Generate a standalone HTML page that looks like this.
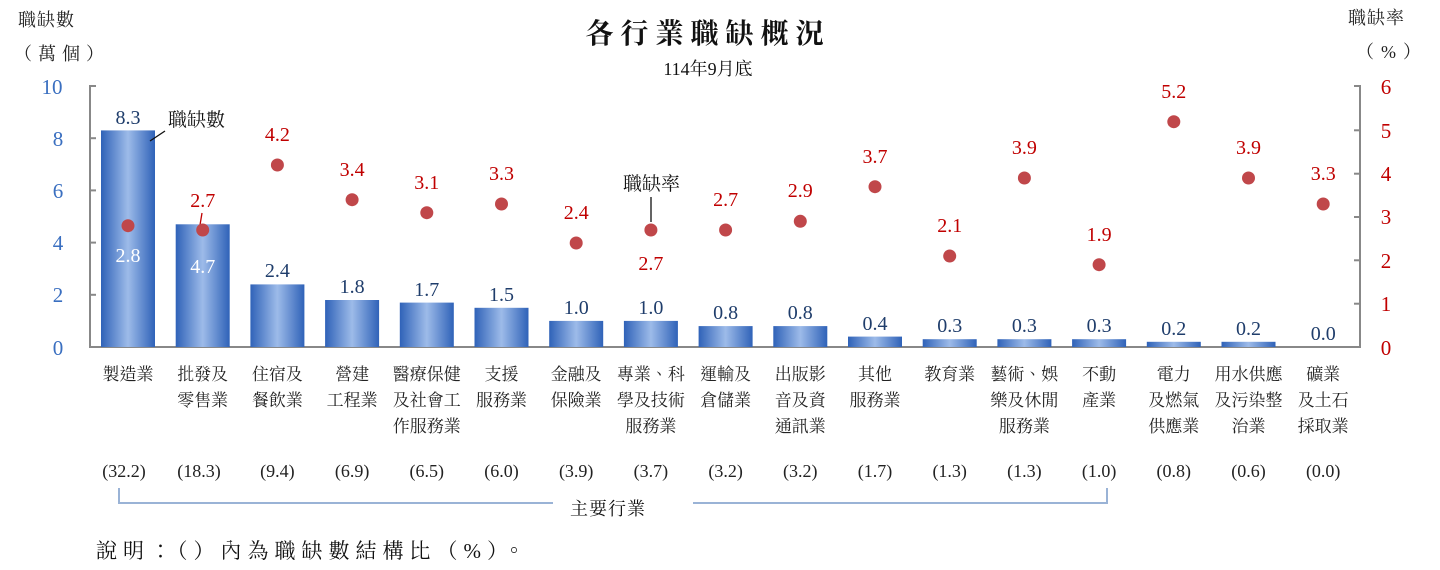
<!DOCTYPE html>
<html><head><meta charset="utf-8"><style>
body{margin:0;background:#fff;}
svg{display:block;font-family:"Liberation Serif","Noto Serif CJK SC",serif;}
.cj{font-family:"Liberation Serif","Noto Serif CJK TC","Noto Serif CJK SC",serif;}
.v{fill:#1f3d6b;font-size:20px;text-anchor:middle}
.r{fill:#c00000;font-size:20px;text-anchor:middle}
.w{fill:#fff;font-size:20px;text-anchor:middle}
.c{fill:#222;font-size:17px;text-anchor:middle}
.p{fill:#222;font-size:18px;text-anchor:middle}
</style></head><body>
<svg width="1440" height="570" viewBox="0 0 1440 570">
<defs>
<linearGradient id="g" x1="0" x2="1" y1="0" y2="0">
<stop offset="0" stop-color="#2f62b8"/><stop offset="0.5" stop-color="#9dbbe9"/><stop offset="1" stop-color="#2f62b8"/>
</linearGradient>
</defs>
<text x="708" y="43" font-size="28" font-weight="bold" text-anchor="middle" class="cj" fill="#111" letter-spacing="7">各行業職缺概況</text>
<text x="708" y="75" font-size="18" text-anchor="middle" class="cj" fill="#111">114年9月底</text>
<text x="18" y="26" font-size="18" class="cj" fill="#222" letter-spacing="1">職缺數</text>
<text x="14" y="60" font-size="18" class="cj" fill="#222" letter-spacing="6">（萬個）</text>
<text x="1348" y="24" font-size="18" class="cj" fill="#222" letter-spacing="1">職缺率</text>
<text x="1356" y="58" font-size="18" class="cj" fill="#222" letter-spacing="7">（%）</text>
<!-- axes -->
<g stroke="#888" stroke-width="2" fill="none">
<polyline points="96,86 90,86 90,347 1360,347 1360,86 1354,86"/>
<line x1="90" y1="294.8" x2="96" y2="294.8"/><line x1="90" y1="242.6" x2="96" y2="242.6"/><line x1="90" y1="190.4" x2="96" y2="190.4"/><line x1="90" y1="138.2" x2="96" y2="138.2"/>
<line x1="1354" y1="303.7" x2="1360" y2="303.7"/><line x1="1354" y1="260.3" x2="1360" y2="260.3"/><line x1="1354" y1="217" x2="1360" y2="217"/><line x1="1354" y1="173.7" x2="1360" y2="173.7"/><line x1="1354" y1="130.3" x2="1360" y2="130.3"/>
</g>
<g fill="#3a6fc0" font-size="21" text-anchor="middle">
<text x="52" y="94">10</text><text x="58" y="146">8</text><text x="58" y="198">6</text><text x="58" y="250">4</text><text x="58" y="302">2</text><text x="58" y="355">0</text>
</g>
<g fill="#c00000" font-size="21" text-anchor="middle">
<text x="1386" y="94">6</text><text x="1386" y="138">5</text><text x="1386" y="181">4</text><text x="1386" y="224">3</text><text x="1386" y="268">2</text><text x="1386" y="311">1</text><text x="1386" y="355">0</text>
</g>
<!-- bars -->
<g fill="url(#g)">
<rect x="101" y="130.4" width="54" height="216.6"/>
<rect x="175.7" y="224.3" width="54" height="122.7"/>
<rect x="250.4" y="284.4" width="54" height="62.6"/>
<rect x="325.1" y="300" width="54" height="47"/>
<rect x="399.8" y="302.6" width="54" height="44.4"/>
<rect x="474.5" y="307.8" width="54" height="39.2"/>
<rect x="549.2" y="320.9" width="54" height="26.1"/>
<rect x="623.9" y="320.9" width="54" height="26.1"/>
<rect x="698.6" y="326.1" width="54" height="20.9"/>
<rect x="773.3" y="326.1" width="54" height="20.9"/>
<rect x="848" y="336.6" width="54" height="10.4"/>
<rect x="922.7" y="339.2" width="54" height="7.8"/>
<rect x="997.4" y="339.2" width="54" height="7.8"/>
<rect x="1072.1" y="339.2" width="54" height="7.8"/>
<rect x="1146.8" y="341.8" width="54" height="5.2"/>
<rect x="1221.5" y="341.8" width="54" height="5.2"/>
</g>
<!-- bar values -->
<text class="v" x="128" y="124">8.3</text>
<text class="w" x="202.7" y="273">4.7</text>
<text class="v" x="277.4" y="277">2.4</text>
<text class="v" x="352.1" y="293">1.8</text>
<text class="v" x="426.8" y="296">1.7</text>
<text class="v" x="501.5" y="301">1.5</text>
<text class="v" x="576.2" y="314">1.0</text>
<text class="v" x="650.9" y="314">1.0</text>
<text class="v" x="725.6" y="319">0.8</text>
<text class="v" x="800.3" y="319">0.8</text>
<text class="v" x="875" y="330">0.4</text>
<text class="v" x="949.7" y="332">0.3</text>
<text class="v" x="1024.4" y="332">0.3</text>
<text class="v" x="1099.1" y="332">0.3</text>
<text class="v" x="1173.8" y="335">0.2</text>
<text class="v" x="1248.5" y="335">0.2</text>
<text class="v" x="1323.2" y="340">0.0</text>
<!-- annotations -->
<text x="168" y="126" font-size="19" class="cj" fill="#111">職缺數</text>
<line x1="150" y1="141" x2="165" y2="131" stroke="#111" stroke-width="1.3"/>
<text x="623" y="190" font-size="19" class="cj" fill="#111">職缺率</text>
<line x1="651" y1="197" x2="651" y2="222" stroke="#111" stroke-width="1.3"/>
<line x1="202" y1="213" x2="200" y2="225" stroke="#c00000" stroke-width="1.3"/>
<!-- dots -->
<g fill="#c0474a">
<circle cx="128" cy="225.7" r="6.5"/><circle cx="202.7" cy="230" r="6.5"/><circle cx="277.4" cy="165" r="6.5"/><circle cx="352.1" cy="199.7" r="6.5"/><circle cx="426.8" cy="212.7" r="6.5"/><circle cx="501.5" cy="204" r="6.5"/><circle cx="576.2" cy="243" r="6.5"/><circle cx="650.9" cy="230" r="6.5"/><circle cx="725.6" cy="230" r="6.5"/><circle cx="800.3" cy="221.3" r="6.5"/><circle cx="875" cy="186.7" r="6.5"/><circle cx="949.7" cy="256" r="6.5"/><circle cx="1024.4" cy="178" r="6.5"/><circle cx="1099.1" cy="264.7" r="6.5"/><circle cx="1173.8" cy="121.7" r="6.5"/><circle cx="1248.5" cy="178" r="6.5"/><circle cx="1323.2" cy="204" r="6.5"/>
</g>
<text class="w" x="128" y="262">2.8</text>
<text class="r" x="202.7" y="207">2.7</text>
<text class="r" x="277.4" y="141">4.2</text>
<text class="r" x="352.1" y="176">3.4</text>
<text class="r" x="426.8" y="189">3.1</text>
<text class="r" x="501.5" y="180">3.3</text>
<text class="r" x="576.2" y="219">2.4</text>
<text class="r" x="650.9" y="270">2.7</text>
<text class="r" x="725.6" y="206">2.7</text>
<text class="r" x="800.3" y="197">2.9</text>
<text class="r" x="875" y="163">3.7</text>
<text class="r" x="949.7" y="232">2.1</text>
<text class="r" x="1024.4" y="154">3.9</text>
<text class="r" x="1099.1" y="241">1.9</text>
<text class="r" x="1173.8" y="98">5.2</text>
<text class="r" x="1248.5" y="154">3.9</text>
<text class="r" x="1323.2" y="180">3.3</text>
<!-- category labels -->
<g class="c cj">
<text x="128" y="380">製造業</text>
<text x="202.7" y="380">批發及</text><text x="202.7" y="406">零售業</text>
<text x="277.4" y="380">住宿及</text><text x="277.4" y="406">餐飲業</text>
<text x="352.1" y="380">營建</text><text x="352.1" y="406">工程業</text>
<text x="426.8" y="380">醫療保健</text><text x="426.8" y="406">及社會工</text><text x="426.8" y="432">作服務業</text>
<text x="501.5" y="380">支援</text><text x="501.5" y="406">服務業</text>
<text x="576.2" y="380">金融及</text><text x="576.2" y="406">保險業</text>
<text x="650.9" y="380">專業、科</text><text x="650.9" y="406">學及技術</text><text x="650.9" y="432">服務業</text>
<text x="725.6" y="380">運輸及</text><text x="725.6" y="406">倉儲業</text>
<text x="800.3" y="380">出版影</text><text x="800.3" y="406">音及資</text><text x="800.3" y="432">通訊業</text>
<text x="875" y="380">其他</text><text x="875" y="406">服務業</text>
<text x="949.7" y="380">教育業</text>
<text x="1024.4" y="380">藝術、娛</text><text x="1024.4" y="406">樂及休閒</text><text x="1024.4" y="432">服務業</text>
<text x="1099.1" y="380">不動</text><text x="1099.1" y="406">產業</text>
<text x="1173.8" y="380">電力</text><text x="1173.8" y="406">及燃氣</text><text x="1173.8" y="432">供應業</text>
<text x="1248.5" y="380">用水供應</text><text x="1248.5" y="406">及污染整</text><text x="1248.5" y="432">治業</text>
<text x="1323.2" y="380">礦業</text><text x="1323.2" y="406">及土石</text><text x="1323.2" y="432">採取業</text>
</g>
<g class="p">
<text x="124" y="477">(32.2)</text><text x="199" y="477">(18.3)</text><text x="277.4" y="477">(9.4)</text><text x="352.1" y="477">(6.9)</text><text x="426.8" y="477">(6.5)</text><text x="501.5" y="477">(6.0)</text><text x="576.2" y="477">(3.9)</text><text x="650.9" y="477">(3.7)</text><text x="725.6" y="477">(3.2)</text><text x="800.3" y="477">(3.2)</text><text x="875" y="477">(1.7)</text><text x="949.7" y="477">(1.3)</text><text x="1024.4" y="477">(1.3)</text><text x="1099.1" y="477">(1.0)</text><text x="1173.8" y="477">(0.8)</text><text x="1248.5" y="477">(0.6)</text><text x="1323.2" y="477">(0.0)</text>
</g>
<polyline points="119,488 119,503 553,503" stroke="#9ab3d6" stroke-width="2" fill="none"/>
<polyline points="693,503 1107,503 1107,488" stroke="#9ab3d6" stroke-width="2" fill="none"/>
<text x="608" y="515" font-size="18" text-anchor="middle" class="cj" fill="#111" letter-spacing="1">主要行業</text>
<text x="96" y="558" font-size="21" class="cj" fill="#111" letter-spacing="6">說明：（）內為職缺數結構比（%）。</text>
</svg>
</body></html>
